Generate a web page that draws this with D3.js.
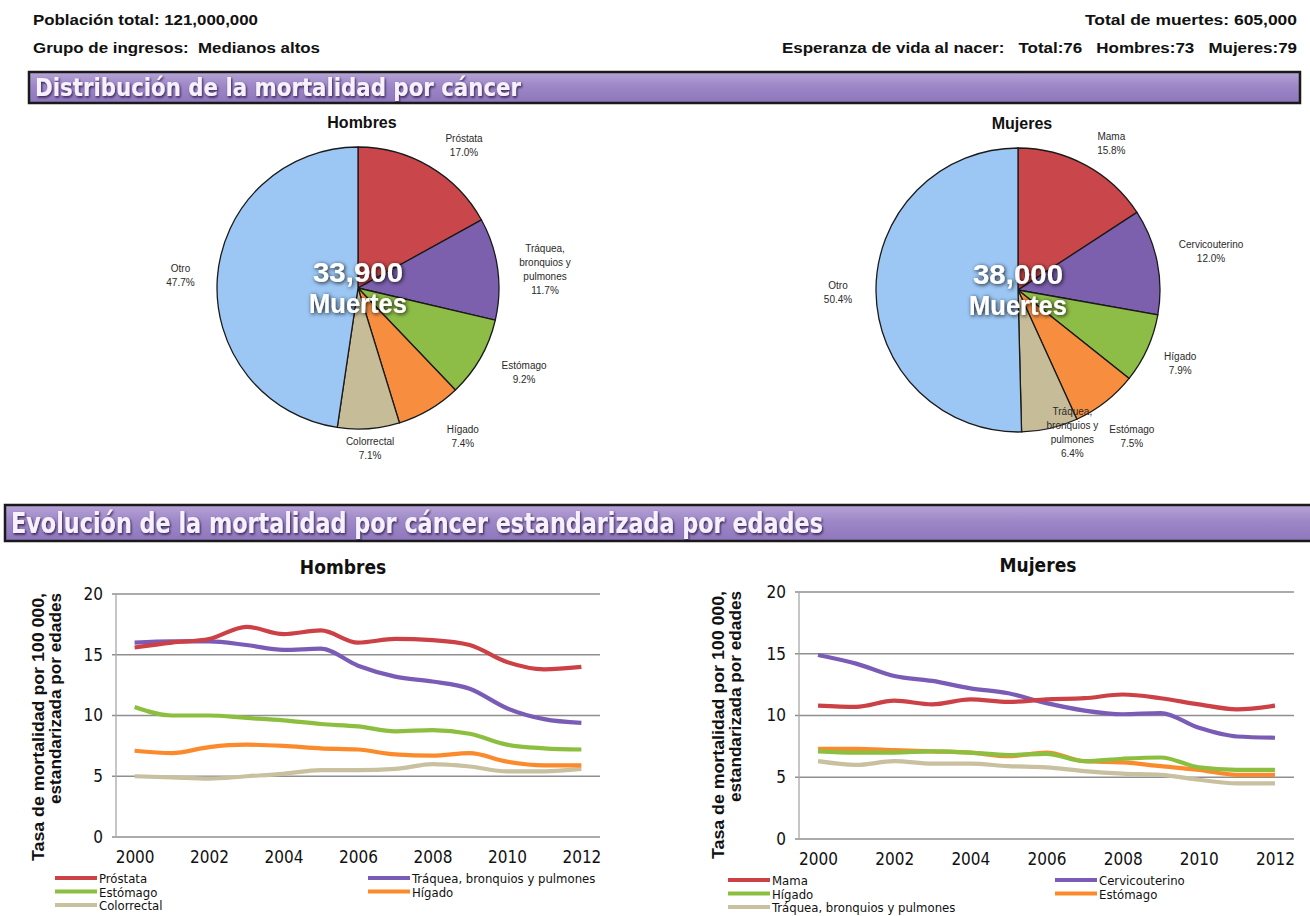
<!DOCTYPE html>
<html>
<head>
<meta charset="utf-8">
<script src="https://cdn.jsdelivr.net/npm/d3@7"></script>
<style>
  body { margin: 0; background: #fff; }
  svg { display: block; }
</style>
</head>
<body>
<svg id="chart" width="1310" height="916"></svg>
<script>
// ---- Country summary -------------------------------------------------------
const summaryLeft = ["Población total: 121,000,000", "Grupo de ingresos:  Medianos altos"];
const summaryRight = ["Total de muertes: 605,000", "Esperanza de vida al nacer:   Total:76   Hombres:73   Mujeres:79"];
const sectionTitles = ["Distribución de la mortalidad por cáncer", "Evolución de la mortalidad por cáncer estandarizada por edades"];
const yAxisTitle = ["Tasa de mortalidad por 100 000,", "estandarizada por edades"];

// ---- Cancer death distribution (%) ----------------------------------------
const menPieCats = ["Próstata", "Tráquea, bronquios y pulmones", "Estómago", "Hígado", "Colorrectal", "Otro"];
const menPieVals = [17.0, 11.7, 9.2, 7.4, 7.1, 47.7];
const menDeaths = "33,900";

const womenPieCats = ["Mama", "Cervicouterino", "Hígado", "Estómago", "Tráquea, bronquios y pulmones", "Otro"];
const womenPieVals = [15.8, 12.0, 7.9, 7.5, 6.4, 50.4];
const womenDeaths = "38,000";

// ---- Age-standardised mortality, per 100 000 -------------------------------
const years = [2000, 2001, 2002, 2003, 2004, 2005, 2006, 2007, 2008, 2009, 2010, 2011, 2012];
const yTicks = [0, 5, 10, 15, 20];
const xTickLabels = [2000, 2002, 2004, 2006, 2008, 2010, 2012];

const menLineCats = ["Próstata", "Tráquea, bronquios y pulmones", "Estómago", "Hígado", "Colorrectal"];
const menProstata  = [15.6, 16.0, 16.3, 17.3, 16.7, 17.0, 16.0, 16.3, 16.2, 15.8, 14.4, 13.8, 14.0];
const menTraquea   = [16.0, 16.1, 16.1, 15.8, 15.4, 15.5, 14.1, 13.2, 12.8, 12.2, 10.6, 9.7, 9.4];
const menEstomago  = [10.7, 10.0, 10.0, 9.8, 9.6, 9.3, 9.1, 8.7, 8.8, 8.5, 7.6, 7.3, 7.2];
const menHigado    = [7.1, 6.9, 7.4, 7.6, 7.5, 7.3, 7.2, 6.8, 6.7, 6.9, 6.2, 5.9, 5.9];
const menColorrect = [5.0, 4.9, 4.8, 5.0, 5.2, 5.5, 5.5, 5.6, 6.0, 5.8, 5.4, 5.4, 5.6];

const womenLineCats = ["Mama", "Cervicouterino", "Hígado", "Estómago", "Tráquea, bronquios y pulmones"];
const womenMama     = [10.8, 10.7, 11.2, 10.9, 11.3, 11.1, 11.3, 11.4, 11.7, 11.4, 10.9, 10.5, 10.8];
const womenCervico  = [14.9, 14.2, 13.2, 12.8, 12.2, 11.8, 11.0, 10.4, 10.1, 10.2, 9.0, 8.3, 8.2];
const womenHigado   = [7.1, 7.0, 7.0, 7.1, 7.0, 6.8, 6.9, 6.3, 6.5, 6.6, 5.8, 5.6, 5.6];
const womenEstomago = [7.3, 7.3, 7.2, 7.1, 7.0, 6.7, 7.0, 6.3, 6.2, 5.9, 5.6, 5.2, 5.2];
const womenTraquea  = [6.3, 6.0, 6.3, 6.1, 6.1, 5.9, 5.8, 5.5, 5.3, 5.2, 4.8, 4.5, 4.5];

// ---- Styling ---------------------------------------------------------------
const pieColors  = ["#c9474a", "#7c60ae", "#8dbd46", "#f78e3f", "#c7bc98", "#9cc7f4"];
const lineColors = ["#cc4146", "#7a5cb6", "#8cbf3f", "#fb8a2c", "#c8c09e"];
const SANS = "'Liberation Sans', Arial, Helvetica, sans-serif";
const NARROW = "'Liberation Sans Narrow', 'Arial Narrow', 'DejaVu Sans Condensed', sans-serif";

const svg = d3.select("#chart");
const defs = svg.append("defs");

const grad = defs.append("linearGradient").attr("id", "bannerFill")
  .attr("x1", 0).attr("y1", 0).attr("x2", 0).attr("y2", 1);
grad.append("stop").attr("offset", "0%").attr("stop-color", "#b7a4d6");
grad.append("stop").attr("offset", "45%").attr("stop-color", "#9d87c7");
grad.append("stop").attr("offset", "100%").attr("stop-color", "#8d76bb");

const shadow = defs.append("filter").attr("id", "txtShadow")
  .attr("x", "-20%").attr("y", "-40%").attr("width", "140%").attr("height", "180%");
shadow.append("feDropShadow").attr("dx", 1).attr("dy", 1.5).attr("stdDeviation", 1.2)
  .attr("flood-color", "#1b1030").attr("flood-opacity", 0.85);

const pieShadow = defs.append("filter").attr("id", "centerShadow")
  .attr("x", "-30%").attr("y", "-50%").attr("width", "160%").attr("height", "200%");
pieShadow.append("feDropShadow").attr("dx", 1).attr("dy", 1).attr("stdDeviation", 2)
  .attr("flood-color", "#000").attr("flood-opacity", 0.9);

// ---- Header ----------------------------------------------------------------
const headerWidthsL = [225, 287];
const headerWidthsR = [212, 515];
summaryLeft.forEach((t, i) => {
  svg.append("text").attr("x", 33).attr("y", 25 + i * 28)
    .attr("font-family", SANS).attr("font-weight", "bold").attr("font-size", 14)
    .attr("fill", "#111").attr("textLength", headerWidthsL[i]).attr("lengthAdjust", "spacingAndGlyphs")
    .style("white-space", "pre").text(t);
});
summaryRight.forEach((t, i) => {
  svg.append("text").attr("x", 1297 - headerWidthsR[i]).attr("y", 25 + i * 28)
    .attr("font-family", SANS).attr("font-weight", "bold").attr("font-size", 14)
    .attr("fill", "#111").attr("textLength", headerWidthsR[i]).attr("lengthAdjust", "spacingAndGlyphs")
    .style("white-space", "pre").text(t);
});

// ---- Section banners -------------------------------------------------------
function banner(x, y, w, h, title, fontSize, textW, baseline) {
  svg.append("rect").attr("x", x).attr("y", y).attr("width", w).attr("height", h)
    .attr("fill", "url(#bannerFill)").attr("stroke", "#1a1a1a").attr("stroke-width", 2.5);
  svg.append("text").attr("x", x + 6).attr("y", baseline)
    .attr("font-family", NARROW).attr("font-weight", "bold").attr("font-size", fontSize)
    .attr("fill", "#f6f0ff").attr("filter", "url(#txtShadow)")
    .attr("textLength", textW).attr("lengthAdjust", "spacingAndGlyphs")
    .text(title);
}
banner(29, 72, 1271, 31, sectionTitles[0], 25, 486, 96);
banner(5, 505, 1310, 36, sectionTitles[1], 29, 812, 533);

// ---- Pie charts ------------------------------------------------------------
function wrapLabel(text, maxChars) {
  const words = text.split(" ");
  const lines = [];
  let cur = "";
  words.forEach(w => {
    const next = cur ? cur + " " + w : w;
    if (next.length > maxChars && cur) { lines.push(cur); cur = w; }
    else cur = next;
  });
  if (cur) lines.push(cur);
  return lines;
}

function drawPie(cx, cy, r, title, cats, vals, deaths, labelDist, labelTurn) {
  const g = svg.append("g").attr("transform", `translate(${cx},${cy})`);
  const arcs = d3.pie().sort(null).value(d => d)(vals);
  const arc = d3.arc().innerRadius(0).outerRadius(r);

  g.selectAll("path.slice").data(arcs).join("path")
    .attr("class", "slice")
    .attr("d", arc)
    .attr("fill", (d, i) => pieColors[i])
    .attr("stroke", "#1a1a1a").attr("stroke-width", 1.3);

  svg.append("text").attr("x", cx + 4).attr("y", cy - r - 19)
    .attr("text-anchor", "middle").attr("font-family", SANS).attr("font-weight", "bold")
    .attr("font-size", 16).attr("fill", "#111").text(title);

  const fmt = d3.format(".1f");
  arcs.forEach((d, i) => {
    const a = (d.startAngle + d.endAngle) / 2 + labelTurn[i] * Math.PI / 180;
    const lx = labelDist[i] * Math.sin(a);
    const ly = -labelDist[i] * Math.cos(a);
    const lines = wrapLabel(cats[i], 11).concat([fmt(vals[i]) + "%"]);
    const t = g.append("text").attr("text-anchor", "middle")
      .attr("font-family", SANS).attr("font-size", 10).attr("fill", "#2a2a2a");
    const top = ly - (lines.length - 1) * 14 / 2 + 4;
    lines.forEach((ln, k) => {
      t.append("tspan").attr("x", lx).attr("y", top + k * 14).text(ln);
    });
  });

  const c = g.append("g").attr("filter", "url(#centerShadow)")
    .attr("font-family", SANS).attr("font-weight", "bold").attr("font-size", 28)
    .attr("fill", "#ffffff").attr("text-anchor", "middle");
  c.append("text").attr("x", 0).attr("y", -6).attr("textLength", 90).attr("lengthAdjust", "spacingAndGlyphs").text(deaths);
  c.append("text").attr("x", 0).attr("y", 25).attr("textLength", 98).attr("lengthAdjust", "spacingAndGlyphs").text("Muertes");
}

drawPie(358, 288, 141, "Hombres", menPieCats, menPieVals, menDeaths,
  [178, 188, 186, 181, 160, 178], [6, 2, -3, -5, 0, 0]);
drawPie(1018, 290, 142, "Mujeres", womenPieCats, womenPieVals, womenDeaths,
  [174, 197, 178, 185, 152, 180], [4, 0, 0, 0, -8, 0]);

// ---- Line charts -----------------------------------------------------------
function drawLines(opt, cats, seriesList) {
  const x = d3.scalePoint().domain(years).range([opt.left, opt.right]).padding(0.5);
  const y = d3.scaleLinear().domain([0, 20]).range([opt.bottom, opt.top]);
  const g = svg.append("g");

  // gridlines (the 0 line doubles as the category axis)
  g.selectAll("line.grid").data(yTicks).join("line")
    .attr("x1", opt.left - 4).attr("x2", opt.right)
    .attr("y1", d => y(d)).attr("y2", d => y(d))
    .attr("stroke", "#8f8f8f").attr("stroke-width", 1.5);
  g.append("line").attr("x1", opt.left).attr("x2", opt.left)
    .attr("y1", opt.top).attr("y2", opt.bottom)
    .attr("stroke", "#a8a8a8").attr("stroke-width", 1.3);

  const yAxis = d3.axisLeft(y).tickValues(yTicks).tickSize(0).tickPadding(13);
  const ya = g.append("g").attr("transform", `translate(${opt.left},0)`).call(yAxis);
  ya.select(".domain").remove();
  ya.selectAll("text").attr("font-family", NARROW).attr("font-size", 17).attr("fill", "#111");

  const xAxis = d3.axisBottom(x).tickValues(xTickLabels).tickSize(0).tickPadding(14).tickFormat(d3.format("d"));
  const xa = g.append("g").attr("transform", `translate(0,${opt.bottom})`).call(xAxis);
  xa.select(".domain").remove();
  xa.selectAll("text").attr("font-family", NARROW).attr("font-size", 17).attr("fill", "#111");

  const line = d3.line().x((d, i) => x(years[i])).y(d => y(d)).curve(d3.curveMonotoneX);
  // draw back-to-front so the first series sits on top
  seriesList.slice().reverse().forEach((s, ri) => {
    const i = seriesList.length - 1 - ri;
    g.append("path").datum(s).attr("d", line)
      .attr("fill", "none").attr("stroke", lineColors[i]).attr("stroke-width", 4.2)
      .attr("stroke-linejoin", "round").attr("stroke-linecap", "butt");
  });

  svg.append("text").attr("x", opt.titleX).attr("y", opt.top - 20)
    .attr("text-anchor", "middle").attr("font-family", NARROW).attr("font-weight", "bold")
    .attr("font-size", 19).attr("fill", "#111").text(opt.title);

  // rotated two-line axis title, both lines flush with the top of the plot
  const titleLens = [268, 211];
  yAxisTitle.forEach((t, k) => {
    svg.append("text")
      .attr("transform", `translate(${opt.ylabelX + k * 17},${opt.top - 1 + titleLens[k]}) rotate(-90)`)
      .attr("x", 0).attr("y", 0)
      .attr("font-family", SANS).attr("font-weight", "bold")
      .attr("font-size", 16).attr("fill", "#111")
      .attr("textLength", titleLens[k]).attr("lengthAdjust", "spacingAndGlyphs")
      .text(t);
  });

  // legend, two columns filled row by row
  cats.forEach((c, i) => {
    const col = i % 2, row = Math.floor(i / 2);
    const lx = opt.legendX[col], ly = opt.legendY + row * 13.5;
    svg.append("line").attr("x1", lx).attr("x2", lx + 42).attr("y1", ly).attr("y2", ly)
      .attr("stroke", lineColors[i]).attr("stroke-width", 4.2);
    svg.append("text").attr("x", lx + 44).attr("y", ly + 5)
      .attr("font-family", NARROW).attr("font-size", 13).attr("fill", "#111").text(c);
  });
}

drawLines({ left: 116, right: 600, top: 594, bottom: 837, titleX: 343, title: "Hombres",
            ylabelX: 44, legendX: [55, 368], legendY: 878 },
  menLineCats, [menProstata, menTraquea, menEstomago, menHigado, menColorrect]);

drawLines({ left: 799, right: 1294, top: 592, bottom: 839, titleX: 1038, title: "Mujeres",
            ylabelX: 724, legendX: [728, 1055], legendY: 880 },
  womenLineCats, [womenMama, womenCervico, womenHigado, womenEstomago, womenTraquea]);
</script>
</body>
</html>
